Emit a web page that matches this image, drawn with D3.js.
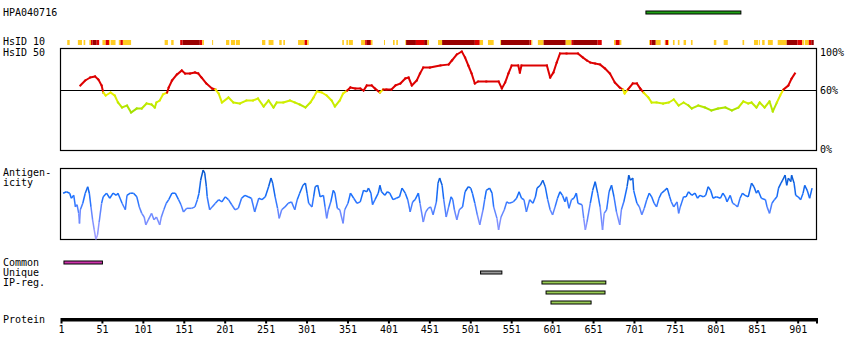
<!DOCTYPE html>
<html><head><meta charset="utf-8">
<script src="https://cdn.jsdelivr.net/npm/d3@7"></script>
<style>
body{margin:0;background:#fff}
svg{display:block}
text{font-family:"DejaVu Sans Mono",monospace;font-size:10px;fill:#000}
</style>
</head><body>
<svg id="c" width="850" height="360"></svg>
<script>
// ---------------- DATA ----------------
const antibodyName = "HPA040716";
const proteinEnd = 924;
const tickLabels = [1,51,101,151,201,251,301,351,401,451,501,551,601,651,701,751,801,851,901];
const identityTicks = ["100%","60%","0%"];
const antigenRegion = [715, 831];
const commonRegions = [[4, 51]];
const uniqueRegions = [[513, 539]];
const ipRegRegions = [[588, 666], [593, 665], [599, 648]];

// HsID 10 segments: [start, end, level] level 1=yellow, 2=red, 3=dark red
const hsid10Segments = [
 [8,11,1],[21,26,1],[28,30,1],[35,37,1],[37,39,2],[39,44,3],[44,47,2],[51,55,1],[55,59,2],[59,60,1],
 [61,67,1],[71,73,1],[73,76,2],[76,86,1],[127,131,1],[135,138,1],[146,149,2],[149,170,3],[170,173,2],
 [173,175,1],[185,186,1],[202,206,1],[208,213,1],[214,219,1],[246,250,1],[254,260,1],[267,270,1],
 [272,274,1],[290,298,1],[298,301,2],[301,303,1],[344,346,1],[349,351,1],[352,357,1],[367,372,1],
 [372,374,2],[374,378,3],[378,379,2],[379,381,1],[395,396,1],[406,408,1],[410,412,1],[421,422,1],
 [422,434,3],[434,444,2],[444,448,3],[448,450,1],[461,466,1],[466,506,3],[506,512,2],[512,516,1],
 [522,529,1],[537,538,1],[538,573,3],[573,575,2],[575,576,1],[583,590,1],[590,617,3],[617,624,1],
 [624,626,2],[626,656,3],[656,661,2],[676,678,1],[678,683,2],[683,685,1],[719,720,1],[720,722,2],
 [722,727,3],[727,733,1],[738,739,1],[739,742,2],[742,743,1],[748,750,1],[754,756,1],[761,764,1],
 [770,772,1],[798,801,1],[810,815,1],[833,835,1],[847,852,1],[853,854,1],[857,860,1],[864,870,1],
 [876,887,1],[887,900,3],[900,906,2],[906,908,1],[909,914,1],[914,917,2],[917,920,3]
];

// HsID 50 identity (%) by residue
const hsid50Residues = [24,30,36,42,46,50,52,55,61,66,70,75,81,86,93,99,105,111,115,117,121,125,130,132,136,142,148,152,158,164,168,172,178,185,189,193,197,205,211,219,227,235,241,248,254,260,264,272,280,286,292,299,305,309,313,319,325,331,335,341,345,350,354,360,366,370,374,380,384,390,394,398,404,409,415,421,425,429,435,439,443,451,464,474,478,484,490,494,498,502,506,510,520,535,539,543,547,551,559,561,563,594,598,602,606,610,618,632,638,643,647,653,659,665,671,677,683,687,689,693,699,704,708,712,718,722,728,736,743,749,755,761,767,771,779,787,795,803,812,820,828,834,840,844,850,854,860,866,870,875,879,883,889,893,897];
const hsid50Values   = [65,70,73,74,71,65,58,55,58,55,48,43,45,38,42,42,47,46,43,48,50,56,58,63,70,76,80,77,77,78,77,73,67,62,61,57,48,53,48,47,50,50,52,44,50,43,48,48,50,48,46,43,48,53,59,58,55,50,44,50,57,60,63,62,62,60,65,65,62,58,61,61,61,65,67,72,73,65,70,77,83,83,85,86,90,96,99,93,85,77,67,69,69,69,62,68,77,85,85,78,85,85,73,78,88,97,97,97,93,90,88,87,86,82,77,68,63,61,57,61,67,67,62,58,53,48,48,47,48,51,45,48,45,42,45,43,40,42,43,40,43,49,47,48,43,48,43,49,39,48,55,61,65,72,77];

// Antigenicity (relative score 0-100) by residue
const antigenResidues = [3,7,11,13,16,18,20,22,23,24,27,30,33,35,37,39,41,43,45,47,50,52,56,60,64,68,70,75,79,81,85,89,93,96,99,102,104,107,111,114,117,121,123,126,129,132,136,140,144,147,150,154,160,164,167,169,171,174,176,178,179,182,185,189,193,197,201,205,209,213,217,221,225,229,233,237,242,246,250,254,257,259,262,265,267,270,274,278,282,286,289,292,296,299,301,303,307,309,311,314,317,321,323,325,327,330,333,335,338,341,345,347,351,354,358,362,366,370,374,376,379,381,384,388,390,392,396,399,402,406,410,414,417,421,424,427,430,433,437,439,443,446,449,452,455,459,461,463,466,468,471,474,477,479,481,484,487,491,494,498,501,503,506,509,512,516,518,520,524,527,529,533,535,538,542,545,548,553,557,560,563,566,569,573,577,580,582,586,589,592,595,598,601,604,607,610,613,616,618,621,624,627,630,632,637,639,641,643,647,650,653,656,659,662,664,667,670,673,676,679,683,685,688,692,694,696,699,700,704,707,710,713,716,719,722,725,728,731,734,738,741,744,746,749,753,755,757,761,764,767,771,775,778,781,785,788,791,794,797,801,806,809,812,814,818,821,824,827,830,833,836,840,844,847,850,852,856,861,863,866,869,872,875,877,880,882,885,887,889,892,893,896,898,901,904,907,909,912,915,918];
const antigenValues   = [65,67,65,58,62,46,49,37,23,42,51,65,74,65,46,28,14,1,7,25,51,60,65,58,65,62,65,51,42,62,65,65,60,46,37,32,21,28,37,28,32,21,32,42,51,56,65,65,56,49,39,44,44,46,56,65,83,97,93,74,60,42,46,51,56,53,60,56,49,42,44,58,62,60,58,39,58,56,60,74,86,79,60,44,30,42,46,51,53,42,56,65,76,79,65,51,46,60,74,76,60,62,46,30,42,53,69,65,44,42,23,42,51,65,58,51,53,69,67,72,65,49,56,65,76,67,62,67,65,56,58,60,72,65,56,39,53,56,65,51,25,39,44,46,35,53,79,86,76,56,32,46,60,56,42,28,42,46,67,74,72,65,51,35,21,42,56,69,72,65,46,30,14,32,42,53,51,53,58,67,58,56,39,56,51,60,72,76,83,74,56,42,35,46,58,67,62,53,60,44,56,58,65,51,49,30,14,25,51,69,81,65,46,14,37,42,67,76,60,39,21,42,53,74,90,83,86,69,51,46,35,44,56,65,60,51,46,58,65,69,72,60,53,46,53,37,46,60,60,67,62,65,58,62,60,62,74,69,58,60,58,65,60,53,62,51,49,46,58,65,62,60,79,74,65,69,58,56,46,37,51,56,60,72,79,83,90,76,86,81,90,79,62,60,56,65,76,69,58,72];

// ---------------- DRAW ----------------
const svg = d3.select("#c");
const x = d3.scaleLinear().domain([1, proteinEnd]).range([61.5, 817]);
const left = 61, right = 817;

// header text
svg.append("text").attr("x", 3).attr("y", 16).text(antibodyName);
function bar(g, r, y, fill) {
  g.append("rect").attr("x", x(r[0])).attr("y", y)
    .attr("width", x(r[1]) - x(r[0])).attr("height", 3)
    .attr("fill", fill).attr("stroke", "#000").attr("stroke-width", 1);
}
bar(svg, antigenRegion, 11, "#1ea014");

// HsID 10
svg.append("text").attr("x", 3).attr("y", 45).text("HsID 10");
const lvlColor = {1: "#ffcc22", 2: "#dd0000", 3: "#990000"};
svg.append("g").selectAll("rect").data(hsid10Segments).join("rect")
  .attr("x", d => x(d[0])).attr("y", 40)
  .attr("width", d => Math.max(1, x(d[1]) - x(d[0]))).attr("height", 5)
  .attr("fill", d => lvlColor[d[2]]);

// HsID 50 panel
svg.append("text").attr("x", 3).attr("y", 56).text("HsID 50");
const yId = d3.scaleLinear().domain([0, 100]).range([150.5, 50.5]);
svg.append("rect").attr("x", 60.5).attr("y", 48.5).attr("width", right - 60.5 - 0.5).attr("height", 102)
  .attr("fill", "none").attr("stroke", "#000").attr("stroke-width", 1.2);
svg.append("line").attr("x1", left).attr("x2", right).attr("y1", yId(60)).attr("y2", yId(60))
  .attr("stroke", "#000").attr("stroke-width", 1);
const tickY = [56, 94, 153];
identityTicks.forEach((t, i) => svg.append("text").attr("x", 820).attr("y", tickY[i]).text(t));

const lowColor = d3.scaleLinear().domain([38, 48, 60]).range(["#99dd00", "#ccee00", "#f4f000"]).clamp(true);
const idPts = hsid50Residues.map((r, i) => [r, hsid50Values[i]]);
const gId = svg.append("g");
for (let i = 0; i < idPts.length - 1; i++) {
  const a = idPts[i], b = idPts[i + 1];
  const m = (a[1] + b[1]) / 2;
  gId.append("line")
    .attr("x1", x(a[0])).attr("y1", yId(a[1])).attr("x2", x(b[0])).attr("y2", yId(b[1]))
    .attr("stroke", m >= 60 ? "#dd0000" : lowColor(m)).attr("stroke-width", 2).attr("stroke-linecap", "square");
}

// Antigenicity panel
svg.append("text").attr("x", 3).attr("y", 176).text("Antigen-");
svg.append("text").attr("x", 3).attr("y", 186).text("icity");
const yAg = d3.scaleLinear().domain([0, 100]).range([240, 168]);
svg.append("rect").attr("x", 60.5).attr("y", 168.5).attr("width", right - 60.5 - 0.5).attr("height", 71)
  .attr("fill", "none").attr("stroke", "#000").attr("stroke-width", 1.2);
const agColor = d3.scaleLinear().domain([0, 35, 60, 100]).range(["#a8a0ff", "#6a88ff", "#1a70ff", "#0050c0"]).clamp(true);
const agPts = antigenResidues.map((r, i) => [r, antigenValues[i]]);
const gAg = svg.append("g");
for (let i = 0; i < agPts.length - 1; i++) {
  const a = agPts[i], b = agPts[i + 1];
  gAg.append("line")
    .attr("x1", x(a[0])).attr("y1", yAg(a[1])).attr("x2", x(b[0])).attr("y2", yAg(b[1]))
    .attr("stroke", agColor((a[1] + b[1]) / 2)).attr("stroke-width", 1.5);
}

// Regions
svg.append("text").attr("x", 3).attr("y", 266).text("Common");
svg.append("text").attr("x", 3).attr("y", 276).text("Unique");
svg.append("text").attr("x", 3).attr("y", 286).text("IP-reg.");
commonRegions.forEach(r => bar(svg, r, 261, "#cc33aa"));
uniqueRegions.forEach(r => bar(svg, r, 271, "#999999"));
ipRegRegions.forEach((r, i) => bar(svg, r, 281 + i * 10, "#99cc55"));

// Protein axis
svg.append("text").attr("x", 3).attr("y", 323).text("Protein");
svg.append("rect").attr("x", left).attr("y", 318).attr("width", right - left + 0.5).attr("height", 3.5).attr("fill", "#000");
const tickPos = tickLabels.concat([proteinEnd]);
svg.append("g").selectAll("rect").data(tickPos).join("rect")
  .attr("x", d => x(d) - 1).attr("y", 318).attr("width", 2).attr("height", 5.5).attr("fill", "#000");
svg.append("g").selectAll("text").data(tickLabels).join("text")
  .attr("x", d => x(d)).attr("y", 333).attr("text-anchor", "middle").text(d => d);
</script>
</body></html>
